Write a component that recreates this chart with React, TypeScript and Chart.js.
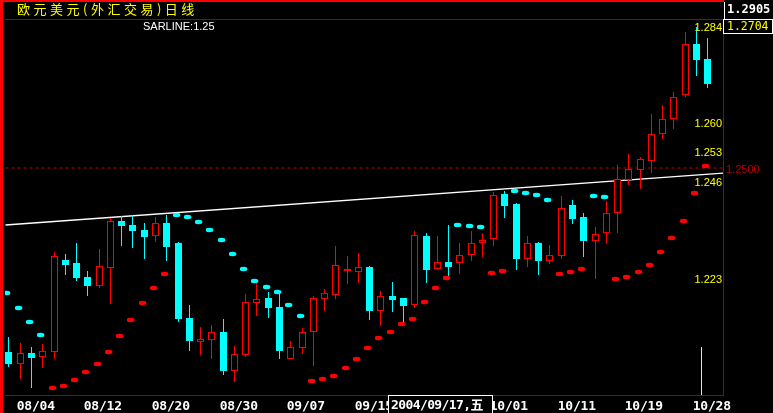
import React, { useEffect, useRef } from 'react';
import { Chart, registerables, LinearScale } from 'chart.js';

// Pixel-snapping linear scales so candles render crisp like the original terminal chart
class SnapXScale extends LinearScale {
  static id = 'snapX';
  static defaults = LinearScale.defaults;
  getPixelForValue(value: number) {
    return Math.floor(super.getPixelForValue(value)) + 0.5;
  }
}
class SnapYScale extends LinearScale {
  static id = 'snapY';
  static defaults = LinearScale.defaults;
  getPixelForValue(value: number) {
    return Math.round(super.getPixelForValue(value));
  }
}

Chart.register(...registerables, SnapXScale, SnapYScale);

// ---- data (EUR/USD daily, 2004-08-03 .. 2004-10-29) ----
const opens = [
  1.2064, 1.2037, 1.2062, 1.2052, 1.2065, 1.2282, 1.2275, 1.2242, 1.2221, 1.2264,
  1.2375, 1.2365, 1.2353, 1.2340, 1.2370, 1.2322, 1.2145, 1.2089, 1.2093, 1.2112,
  1.2020, 1.2058, 1.2181, 1.2192, 1.2171, 1.2049, 1.2075, 1.2112, 1.2191, 1.2200,
  1.2255, 1.2254, 1.2266, 1.2161, 1.2197, 1.2192, 1.2175, 1.2339, 1.2260, 1.2277,
  1.2274, 1.2293, 1.2322, 1.2331, 1.2438, 1.2415, 1.2285, 1.2322, 1.2281, 1.2292,
  1.2412, 1.2384, 1.2328, 1.2345, 1.2393, 1.2472, 1.2496, 1.2517, 1.2580, 1.2615,
  1.2674, 1.2794, 1.2758,
];
const highs = [
  1.2100, 1.2085, 1.2076, 1.2083, 1.2301, 1.2296, 1.2323, 1.2256, 1.2308, 1.2381,
  1.2386, 1.2389, 1.2370, 1.2383, 1.2389, 1.2326, 1.2176, 1.2124, 1.2128, 1.2143,
  1.2079, 1.2201, 1.2228, 1.2206, 1.2205, 1.2090, 1.2121, 1.2196, 1.2214, 1.2315,
  1.2292, 1.2299, 1.2268, 1.2209, 1.2230, 1.2192, 1.2351, 1.2346, 1.2339, 1.2365,
  1.2322, 1.2351, 1.2345, 1.2443, 1.2445, 1.2418, 1.2339, 1.2326, 1.2318, 1.2434,
  1.2424, 1.2393, 1.2360, 1.2422, 1.2507, 1.2533, 1.2527, 1.2628, 1.2649, 1.2681,
  1.2823, 1.2835, 1.2807,
];
const lows = [
  1.2030, 1.2000, 1.1978, 1.2027, 1.2049, 1.2247, 1.2233, 1.2197, 1.2217, 1.2179,
  1.2315, 1.2311, 1.2285, 1.2326, 1.2280, 1.2136, 1.2067, 1.2057, 1.2048, 1.2011,
  1.1994, 1.2052, 1.2150, 1.2146, 1.2049, 1.2049, 1.2060, 1.2032, 1.2162, 1.2191,
  1.2226, 1.2228, 1.2139, 1.2127, 1.2160, 1.2131, 1.2169, 1.2228, 1.2258, 1.2243,
  1.2250, 1.2281, 1.2290, 1.2316, 1.2382, 1.2259, 1.2265, 1.2247, 1.2273, 1.2285,
  1.2368, 1.2290, 1.2237, 1.2321, 1.2347, 1.2460, 1.2451, 1.2487, 1.2568, 1.2593,
  1.2669, 1.2719, 1.2689,
];
const closes = [
  1.2037, 1.2061, 1.2051, 1.2066, 1.2291, 1.2270, 1.2240, 1.2221, 1.2267, 1.2374,
  1.2363, 1.2351, 1.2337, 1.2369, 1.2313, 1.2143, 1.2090, 1.2094, 1.2111, 1.2020,
  1.2059, 1.2182, 1.2190, 1.2169, 1.2067, 1.2076, 1.2111, 1.2192, 1.2203, 1.2270,
  1.2261, 1.2265, 1.2162, 1.2196, 1.2188, 1.2174, 1.2341, 1.2259, 1.2277, 1.2266,
  1.2293, 1.2322, 1.2329, 1.2436, 1.2411, 1.2285, 1.2322, 1.2281, 1.2293, 1.2405,
  1.2380, 1.2328, 1.2343, 1.2393, 1.2473, 1.2498, 1.2521, 1.2580, 1.2616, 1.2667,
  1.2794, 1.2756, 1.2698,
];
const sarValues = [
  1.2204, 1.2169, 1.2136, 1.2105, 1.1980, 1.1985, 1.1999, 1.2018, 1.2037, 1.2065,
  1.2103, 1.2141, 1.2181, 1.2217, 1.2250, 1.2389, 1.2385, 1.2373, 1.2354, 1.2330,
  1.2297, 1.2262, 1.2233, 1.2218, 1.2207, 1.2176, 1.2150, 1.1996, 1.2001, 1.2008,
  1.2027, 1.2048, 1.2075, 1.2098, 1.2112, 1.2131, 1.2143, 1.2183, 1.2217, 1.2240,
  1.2366, 1.2363, 1.2361, 1.2252, 1.2255, 1.2446, 1.2442, 1.2437, 1.2424, 1.2250,
  1.2254, 1.2262, 1.2434, 1.2432, 1.2238, 1.2243, 1.2254, 1.2271, 1.2300, 1.2335,
  1.2375, 1.2440, 1.2504,
];
const sarLineValue = 1.25;
const trendStartValue = 1.2365;
const trendEndValue = 1.2488;
const markerIndex = 61.45;
const markerTopValue = 1.2077;

const xMin = -0.354;
const xMax = 63.35;
const yMin = 1.19626;
const yMax = 1.28504;

const priceTicks = [1.284, 1.26, 1.253, 1.246, 1.223];
const dateTickIndex = [1, 7, 13, 19, 25, 31, 37, 43, 49, 55, 61];
const dateTickLabels = ['08/04', '08/12', '08/20', '08/30', '09/07', '09/15', '09/23', '10/01', '10/11', '10/19', '10/28'];
const cursorIndex = 34;
const cursorLabel = '2004/09/17,五';

const titleText = '欧元美元(外汇交易)日线';
const sarLineLabel = 'SARLINE:1.25';
const headerPrice = '1.2905';
const lastPrice = '1.2704';
const sarLineTag = '1.2500';

const RED = '#ff0000';
const CYAN = '#00ffff';

function makeDot(color: string) {
  const c = document.createElement('canvas');
  c.width = 11;
  c.height = 6;
  const g = c.getContext('2d')!;
  g.fillStyle = color;
  g.beginPath();
  g.ellipse(3.5, 3, 3.9, 2.2, 0, 0, Math.PI * 2);
  g.fill();
  return c;
}

const decorPlugin = {
  id: 'decor',
  beforeDraw(chart: any) {
    const { ctx, width, height, chartArea: a } = chart;
    ctx.save();
    ctx.fillStyle = '#000';
    ctx.fillRect(0, 0, width, height);
    ctx.fillStyle = RED;
    ctx.fillRect(0, 0, a.right + 1, 2);
    ctx.fillRect(0, 0, 3, height);
    ctx.fillStyle = '#a00000';
    ctx.fillRect(a.left, a.top - 1, a.right - a.left, 1);
    ctx.fillRect(a.right, a.top - 1, 1, a.bottom - a.top + 1);
    ctx.fillRect(a.left, a.bottom, a.right - a.left + 1, 1);
    ctx.restore();
  },
  afterDatasetsDraw(chart: any) {
    const { ctx, chartArea: a } = chart;
    const xs = chart.scales.x;
    const ys = chart.scales.y;
    ctx.save();
    // title
    ctx.font = '13px "Noto Sans CJK SC"';
    ctx.fillStyle = '#ffff00';
    ctx.textAlign = 'left';
    ctx.textBaseline = 'middle';
    (ctx as any).letterSpacing = '3.5px';
    ctx.fillText(titleText, 17, 9.5);
    (ctx as any).letterSpacing = '0px';
    ctx.textBaseline = 'alphabetic';
    // SARLINE label
    ctx.font = '11px "Liberation Sans"';
    ctx.fillStyle = '#ffffff';
    ctx.fillText(sarLineLabel, 143, 30);
    // price ticks
    ctx.font = '11px "Liberation Sans"';
    ctx.fillStyle = '#ffff00';
    ctx.textAlign = 'right';
    priceTicks.forEach((v) => {
      const y = Math.max(ys.getPixelForValue(v) + 1, a.top + 10.5);
      ctx.fillText(v.toFixed(3), a.right - 1, y);
    });
    // right panel
    ctx.textAlign = 'left';
    ctx.strokeStyle = '#ffffff';
    ctx.lineWidth = 1;
    ctx.beginPath();
    ctx.moveTo(724.5, 2);
    ctx.lineTo(724.5, 19);
    ctx.stroke();
    ctx.strokeRect(723.5, 19.5, 49, 14);
    ctx.font = 'bold 12px "DejaVu Sans Mono"';
    ctx.fillStyle = '#ffffff';
    ctx.fillText(headerPrice, 727, 13);
    ctx.font = '11.5px "DejaVu Sans Mono"';
    ctx.fillStyle = '#ffff00';
    ctx.fillText(lastPrice, 727, 30);
    ctx.font = '11px "Liberation Sans"';
    ctx.fillStyle = '#b40000';
    ctx.fillText(sarLineTag, 726, ys.getPixelForValue(sarLineValue) + 4.5);
    // date labels
    ctx.font = 'bold 13px "DejaVu Sans Mono"';
    ctx.fillStyle = '#ffffff';
    (ctx as any).letterSpacing = '-0.2px';
    dateTickIndex.forEach((idx, k) => {
      ctx.fillText(dateTickLabels[k], xs.getPixelForValue(idx) - 3.8, 410);
    });
    // cursor date box
    const bx = Math.round(xs.getPixelForValue(cursorIndex) - 4.5);
    ctx.fillStyle = '#000';
    ctx.fillRect(bx, a.bottom, 105, 30);
    ctx.strokeStyle = '#ffffff';
    ctx.strokeRect(bx + 0.5, a.bottom + 0.5, 104, 30);
    ctx.font = 'bold 13px "DejaVu Sans Mono", "Noto Sans CJK SC"';
    (ctx as any).letterSpacing = '-0.6px';
    ctx.fillStyle = '#ffffff';
    ctx.fillText(cursorLabel, bx + 3, 408.5);
    (ctx as any).letterSpacing = '0px';
    ctx.restore();
  },
};

export default function App() {
  const ref = useRef<HTMLCanvasElement>(null);

  useEffect(() => {
    if (!ref.current) return;
    const redDot = makeDot(RED);
    const cyanDot = makeDot(CYAN);
    const idx = closes.map((_, i) => i);
    const up = (i: number) => closes[i] >= opens[i];

    const chart = new Chart(ref.current, {
      type: 'bar',
      data: {
        datasets: [
          {
            type: 'line',
            label: 'SAR',
            data: idx.map((i) => ({ x: i, y: sarValues[i] })),
            showLine: false,
            pointStyle: idx.map((i) => (sarValues[i] > closes[i] ? cyanDot : redDot)),
            pointRadius: 3,
            order: 0,
          } as any,
          {
            type: 'bar',
            label: 'body',
            data: idx.map((i) => ({ x: i, y: [opens[i], closes[i]] })),
            backgroundColor: idx.map((i) => (up(i) ? '#000000' : CYAN)),
            borderColor: idx.map((i) => (up(i) ? RED : CYAN)),
            borderWidth: 1,
            borderSkipped: false,
            grouped: false,
            barThickness: 7,
            maxBarThickness: 7,
            inflateAmount: 0,
            order: 1,
          } as any,
          {
            type: 'bar',
            label: 'wick',
            data: idx.map((i) => ({ x: i, y: [lows[i], highs[i]] })),
            backgroundColor: idx.map((i) => (up(i) ? RED : CYAN)),
            borderWidth: 0,
            grouped: false,
            barThickness: 1,
            maxBarThickness: 1,
            inflateAmount: 0,
            order: 2,
          } as any,
          {
            type: 'line',
            label: 'trend',
            data: [
              { x: xMin, y: trendStartValue },
              { x: xMax, y: trendEndValue },
            ],
            borderColor: '#ffffff',
            borderWidth: 1.3,
            pointRadius: 0,
            order: 3,
          } as any,
          {
            type: 'line',
            label: 'SARLINE',
            data: [
              { x: xMin, y: sarLineValue },
              { x: xMax, y: sarLineValue },
            ],
            borderColor: '#c00000',
            borderWidth: 1,
            borderDash: [3, 3],
            pointRadius: 0,
            order: 4,
          } as any,
          {
            type: 'line',
            label: 'marker',
            data: [
              { x: markerIndex, y: markerTopValue },
              { x: markerIndex, y: yMin },
            ],
            borderColor: '#ffff00',
            borderWidth: 1,
            pointRadius: 0,
            order: 5,
          } as any,
        ],
      },
      options: {
        animation: false,
        responsive: false,
        events: [],
        layout: { padding: { left: 3, right: 50, top: 20, bottom: 18 } },
        plugins: { legend: { display: false }, tooltip: { enabled: false } },
        scales: {
          x: { type: 'snapX', min: xMin, max: xMax, display: false, offset: false },
          y: { type: 'snapY', min: yMin, max: yMax, display: false, beginAtZero: false },
        },
      } as any,
      plugins: [decorPlugin],
    });
    return () => chart.destroy();
  }, []);

  return (
    <div style={{ position: 'fixed', left: 0, top: 0, width: 773, height: 413, background: '#000' }}>
      <canvas ref={ref} width={773} height={413} style={{ display: 'block' }} />
    </div>
  );
}
